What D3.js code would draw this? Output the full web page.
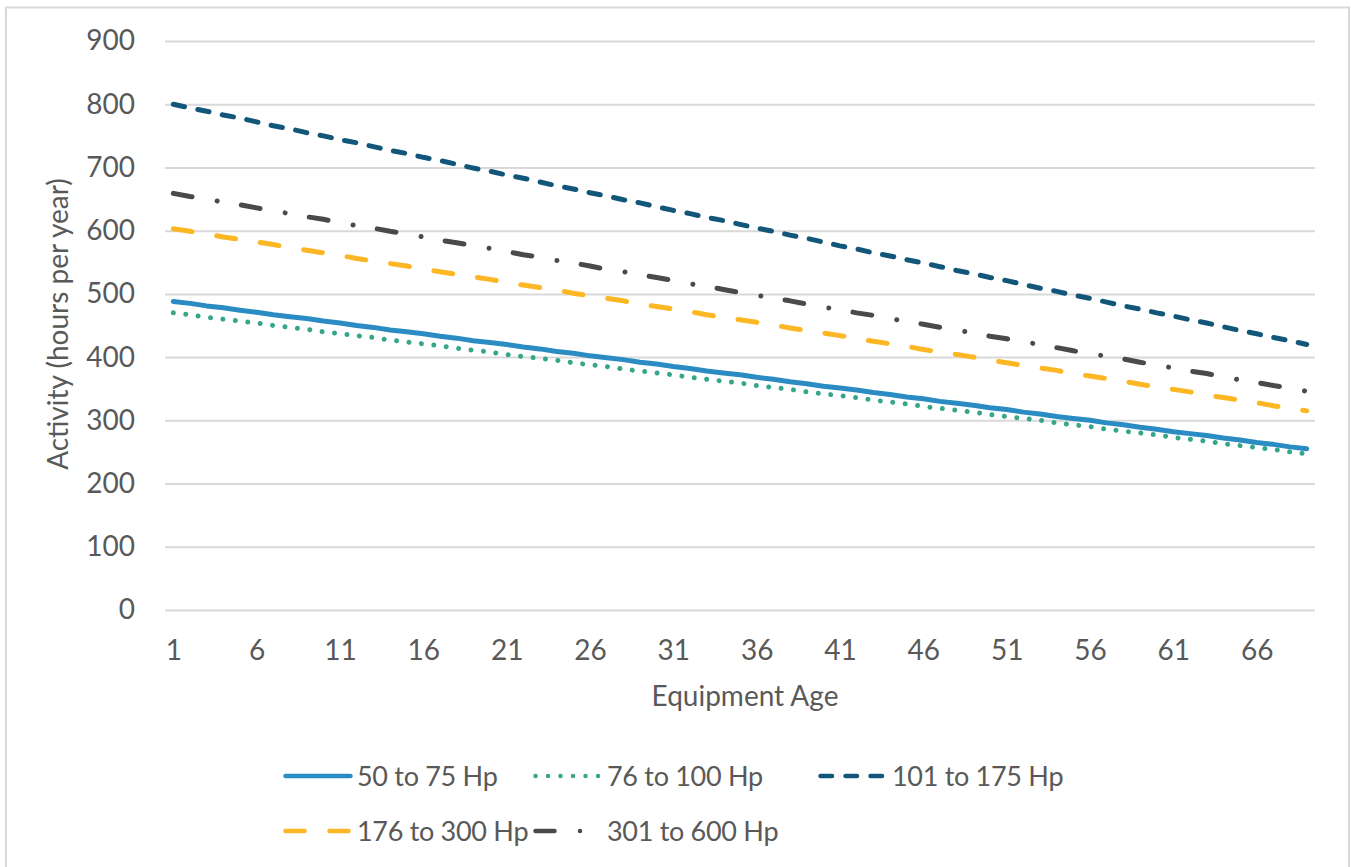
<!DOCTYPE html>
<html>
<head>
<meta charset="utf-8">
<script src="https://cdn.jsdelivr.net/npm/d3@7"></script>
<style>
  body { margin: 0; background: #fff; }
  text { font-family: Lato, "Open Sans", sans-serif; fill: #595959; }
</style>
</head>
<body>
<div id="wrapper"></div>
<script>
const ages = [
  1, 2, 3, 4, 5, 6, 7, 8, 9, 10, 11, 12, 13, 14, 15, 16, 17, 18, 19, 20,
  21, 22, 23, 24, 25, 26, 27, 28, 29, 30, 31, 32, 33, 34, 35, 36, 37, 38, 39, 40,
  41, 42, 43, 44, 45, 46, 47, 48, 49, 50, 51, 52, 53, 54, 55, 56, 57, 58, 59, 60,
  61, 62, 63, 64, 65, 66, 67, 68, 69
]
const xTickLabels = [1, 6, 11, 16, 21, 26, 31, 36, 41, 46, 51, 56, 61, 66]
const yTickLabels = [0, 100, 200, 300, 400, 500, 600, 700, 800, 900]

const seriesNames = ["50 to 75 Hp", "76 to 100 Hp", "101 to 175 Hp", "176 to 300 Hp", "301 to 600 Hp"]

const hp50to75 = [
  488, 485, 481, 478, 474, 471, 467, 464, 461, 457, 454, 450, 447, 443, 440, 437, 433, 430, 426, 423,
  420, 416, 413, 409, 406, 402, 399, 396, 392, 389, 385, 382, 378, 375, 372, 368, 365, 361, 358, 354,
  351, 348, 344, 341, 337, 334, 330, 327, 324, 320, 317, 313, 310, 306, 303, 300, 296, 293, 289, 286,
  282, 279, 276, 272, 269, 265, 262, 258, 255
]
const hp76to100 = [
  470, 467, 463, 460, 457, 454, 450, 447, 444, 440, 437, 434, 431, 427, 424, 421, 418, 414, 411, 408,
  404, 401, 398, 395, 391, 388, 385, 381, 378, 375, 372, 368, 365, 362, 359, 355, 352, 349, 345, 342,
  339, 336, 332, 329, 326, 322, 319, 316, 313, 309, 306, 303, 300, 296, 293, 290, 286, 283, 280, 277,
  273, 270, 267, 263, 260, 257, 254, 250, 247
]
const hp101to175 = [
  800, 794, 789, 783, 778, 772, 766, 761, 755, 750, 744, 739, 733, 727, 722, 716, 711, 705, 699, 694,
  688, 683, 677, 671, 666, 660, 655, 649, 644, 638, 632, 627, 621, 616, 610, 604, 599, 593, 588, 582,
  576, 571, 565, 560, 554, 549, 543, 537, 532, 526, 521, 515, 509, 504, 498, 493, 487, 481, 476, 470,
  465, 459, 454, 448, 442, 437, 431, 426, 420
]
const hp176to300 = [
  603, 599, 595, 590, 586, 582, 578, 573, 569, 565, 561, 556, 552, 548, 544, 539, 535, 531, 527, 523,
  518, 514, 510, 506, 501, 497, 493, 489, 484, 480, 476, 472, 467, 463, 459, 455, 451, 446, 442, 438,
  434, 429, 425, 421, 417, 412, 408, 404, 400, 395, 391, 387, 383, 379, 374, 370, 366, 362, 357, 353,
  349, 345, 340, 336, 332, 328, 323, 319, 315
]
const hp301to600 = [
  659, 654, 650, 645, 641, 636, 631, 627, 622, 618, 613, 608, 604, 599, 595, 590, 585, 581, 576, 572,
  567, 562, 558, 553, 549, 544, 539, 535, 530, 526, 521, 516, 512, 507, 502, 498, 493, 489, 484, 479,
  475, 470, 466, 461, 456, 452, 447, 443, 438, 433, 429, 424, 420, 415, 410, 406, 401, 397, 392, 387,
  383, 378, 374, 369, 364, 360, 355, 351, 346
]

function drawLineChart() {
  const seriesValues = [hp50to75, hp76to100, hp101to175, hp176to300, hp301to600]
  const series = seriesNames.map((name, i) => ({
    name,
    values: ages.map((age, j) => ({ age, value: seriesValues[i][j] }))
  }))

  // line looks, in the same order as seriesNames
  const styles = [
    { color: "#2b8cc4", dash: null },
    { color: "#35a68a", dash: "0.001,12.5" },
    { color: "#12577a", dash: "11.5,13.5" },
    { color: "#fdb624", dash: "19,25" },
    { color: "#4a4a4a", dash: "19,25.5,0.001,24.5" },
  ]
  const fontSize = 28

  const xAccessor = d => d.age
  const yAccessor = d => d.value

  let dimensions = {
    width: 1351,
    height: 867,
    margins: {
      top: 41,
      right: 36,
      bottom: 257,
      left: 165,
    }
  }
  dimensions.boundedWidth = dimensions.width
    - dimensions.margins.left
    - dimensions.margins.right
  dimensions.boundedHeight = dimensions.height
    - dimensions.margins.top
    - dimensions.margins.bottom

  const wrapper = d3.select("#wrapper")
    .append("svg")
      .attr("width", dimensions.width)
      .attr("height", dimensions.height)
      .style("display", "block")

  // chart border
  wrapper.append("rect")
    .attr("x", 6)
    .attr("y", 7.5)
    .attr("width", 1343)
    .attr("height", 880)
    .attr("fill", "#fff")
    .attr("stroke", "#d9d9d9")
    .attr("stroke-width", 2)

  const bounds = wrapper.append("g")
    .attr("transform", `translate(${dimensions.margins.left}, ${dimensions.margins.top})`)

  const xScale = d3.scalePoint()
    .domain(ages)
    .range([0, dimensions.boundedWidth])
    .padding(0.5)

  const yScale = d3.scaleLinear()
    .domain([0, 900])
    .range([dimensions.boundedHeight, 0])

  // gridlines
  const grid = bounds.append("g")
    .call(d3.axisLeft(yScale)
      .tickValues(yTickLabels)
      .tickSize(-dimensions.boundedWidth)
      .tickFormat(""))
  grid.select(".domain").remove()
  grid.selectAll("line")
    .attr("stroke", "#d9d9d9")
    .attr("stroke-width", 2)

  // axes
  const yAxis = bounds.append("g")
    .call(d3.axisLeft(yScale)
      .tickValues(yTickLabels)
      .tickSize(0)
      .tickPadding(30))
  yAxis.select(".domain").remove()
  yAxis.selectAll("text")
    .style("font-family", "Lato")
    .attr("font-size", fontSize)
    .attr("fill", "#595959")

  const xAxis = bounds.append("g")
    .attr("transform", `translate(0, ${dimensions.boundedHeight})`)
    .call(d3.axisBottom(xScale)
      .tickValues(xTickLabels)
      .tickSize(0)
      .tickPadding(30))
  xAxis.select(".domain").remove()
  xAxis.selectAll("text")
    .style("font-family", "Lato")
    .attr("font-size", fontSize)
    .attr("fill", "#595959")

  // lines
  const lineGenerator = d3.line()
    .x(d => xScale(xAccessor(d)))
    .y(d => yScale(yAccessor(d)))

  bounds.selectAll(".series")
    .data(series)
    .join("path")
      .attr("class", "series")
      .attr("d", d => lineGenerator(d.values))
      .attr("fill", "none")
      .attr("stroke", (d, i) => styles[i].color)
      .attr("stroke-width", 5)
      .attr("stroke-linecap", "round")
      .attr("stroke-linejoin", "round")
      .attr("stroke-dasharray", (d, i) => styles[i].dash)

  // axis titles
  wrapper.append("text")
    .attr("transform", "translate(68, 324) rotate(-90)")
    .attr("text-anchor", "middle")
    .attr("font-size", fontSize)
    .text("Activity (hours per year)")

  wrapper.append("text")
    .attr("x", dimensions.margins.left + dimensions.boundedWidth / 2 + 5)
    .attr("y", 706)
    .attr("text-anchor", "middle")
    .attr("font-size", fontSize)
    .text("Equipment Age")

  // legend
  const legendSpots = [
    { x: 283, y: 776 }, { x: 533, y: 776 }, { x: 818, y: 776 },
    { x: 283, y: 831 }, { x: 533, y: 831 },
  ]
  const legend = wrapper.selectAll(".legend")
    .data(series)
    .join("g")
      .attr("class", "legend")
      .attr("transform", (d, i) => `translate(${legendSpots[i].x}, ${legendSpots[i].y})`)

  legend.append("line")
    .attr("x1", 2.5)
    .attr("x2", 67.5)
    .attr("stroke", (d, i) => styles[i].color)
    .attr("stroke-width", 4.5)
    .attr("stroke-linecap", "round")
    .attr("stroke-dasharray", (d, i) => styles[i].dash)

  legend.append("text")
    .attr("x", 74)
    .attr("dy", "0.36em")
    .attr("font-size", 27)
    .attr("letter-spacing", -0.3)
    .text(d => d.name)
}

drawLineChart()
</script>
</body>
</html>
